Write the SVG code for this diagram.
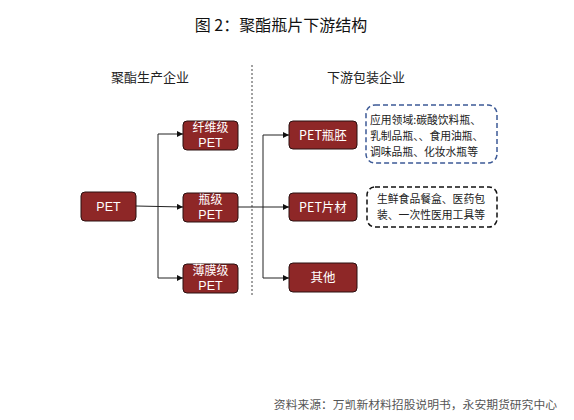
<svg xmlns="http://www.w3.org/2000/svg" width="574" height="420" viewBox="0 0 574 420">
<defs>
<marker id="arr" viewBox="0 0 10 10" refX="10" refY="5" markerWidth="6" markerHeight="6" orient="auto" markerUnits="userSpaceOnUse">
<path d="M0,0 L10,5 L0,10 z" fill="#111"/>
</marker>
<style>
text{font-family:"Noto Sans CJK SC","Liberation Sans",sans-serif}
.title{font-size:16px;fill:#111}
.sub{font-size:13px;fill:#222}
.node rect{fill:#8E2727;stroke:#2a1010;stroke-width:1}
.node text{fill:#fff;font-size:12.5px;text-anchor:middle}
.node text.l1{font-size:12px}
.node text.l2{font-family:"Liberation Sans",sans-serif;font-size:12.5px}
.con{fill:none;stroke:#222;stroke-width:1}
.note{font-size:10.8px;fill:#222}
.src{font-size:11.8px;fill:#555}
</style>
</defs>
<rect width="574" height="420" fill="#fff"/>
<text class="title" x="281" y="31" text-anchor="middle">图 2：聚酯瓶片下游结构</text>
<text class="sub" x="150" y="82" text-anchor="middle">聚酯生产企业</text>
<text class="sub" x="366" y="82" text-anchor="middle">下游包装企业</text>
<line x1="252" y1="65" x2="252" y2="296" stroke="#444" stroke-width="1" stroke-dasharray="2,2"/>
<g id="connectors">
<path class="con" d="M136,206 L183,207" marker-end="url(#arr)"/>
<path class="con" d="M158,278 L158,134 L183,134" marker-end="url(#arr)"/>
<path class="con" d="M158,278 L183,278" marker-end="url(#arr)"/>
<path class="con" d="M238,207 L289,207" marker-end="url(#arr)"/>
<path class="con" d="M263,278 L263,135 L289,135" marker-end="url(#arr)"/>
<path class="con" d="M263,278 L289,278" marker-end="url(#arr)"/>
</g>
<g id="n-pet" class="node"><rect x="81" y="192" width="55" height="29" rx="4"/><text class="l2" x="108.5" y="211">PET</text></g>
<g id="n-fiber" class="node"><rect x="183" y="121" width="55" height="29" rx="4"/><text class="l1" x="210.5" y="132">纤维级</text><text class="l2" x="210.5" y="147">PET</text></g>
<g id="n-bottle" class="node"><rect x="183" y="193" width="55" height="29" rx="4"/><text class="l1" x="210.5" y="204">瓶级</text><text class="l2" x="210.5" y="219">PET</text></g>
<g id="n-film" class="node"><rect x="183" y="264" width="55" height="29" rx="4"/><text class="l1" x="210.5" y="275">薄膜级</text><text class="l2" x="210.5" y="290">PET</text></g>
<g id="n-preform" class="node"><rect x="289" y="121" width="68" height="28" rx="4"/><text x="323" y="139.5">PET瓶胚</text></g>
<g id="n-sheet" class="node"><rect x="289" y="193" width="68" height="28" rx="4"/><text x="323" y="211.5">PET片材</text></g>
<g id="n-other" class="node"><rect x="289" y="263" width="68" height="29" rx="4"/><text x="323" y="282">其他</text></g>
<g id="note-preform">
<rect x="366" y="105" width="131" height="58" rx="9" fill="none" stroke="#3D5A96" stroke-width="1.5" stroke-dasharray="5,3"/>
<text class="note"><tspan x="370" y="124.3">应用领域:碳酸饮料瓶、</tspan><tspan x="370" dy="15.7">乳制品瓶、、食用油瓶、</tspan><tspan x="370" dy="15.7">调味品瓶、化妆水瓶等</tspan></text>
</g>
<g id="note-sheet">
<rect x="367" y="187" width="130" height="40" rx="8" fill="none" stroke="#111" stroke-width="1.5" stroke-dasharray="5,3"/>
<text class="note" text-anchor="middle"><tspan x="431" y="203">生鲜食品餐盒、医药包</tspan><tspan x="431" dy="15.7">装、一次性医用工具等</tspan></text>
</g>
<text class="src" x="557" y="409" text-anchor="end">资料来源：万凯新材料招股说明书，永安期货研究中心</text>
</svg>
